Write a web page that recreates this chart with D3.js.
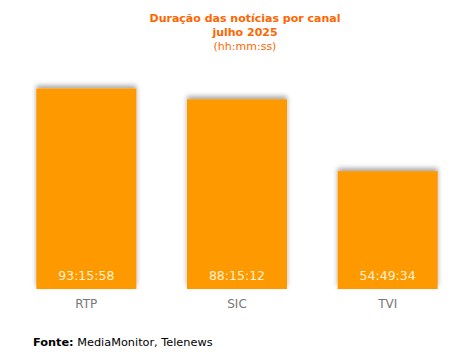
<!DOCTYPE html>
<html>
<head>
<meta charset="utf-8">
<script src="https://cdn.jsdelivr.net/npm/d3@7"></script>
<style>
  body { margin: 0; background: #fff; }
  svg { font-family: "DejaVu Sans", Verdana, sans-serif; }
</style>
</head>
<body>
<div id="chart"></div>
<script>
// channels and news duration (hh:mm:ss)
var channels = ["RTP", "SIC", "TVI"];
var durations = ["93:15:58", "88:15:12", "54:49:34"];

function toHours(s) {
    var p = s.split(":").map(Number);
    return p[0] + p[1] / 60 + p[2] / 3600;
}

var width = 471, height = 352;

var svg = d3.select("#chart").append("svg")
    .attr("width", width)
    .attr("height", height);

var defs = svg.append("defs");
var f = defs.append("filter")
    .attr("id", "shadow")
    .attr("x", "-20%").attr("y", "-20%")
    .attr("width", "140%").attr("height", "140%");
f.append("feDropShadow")
    .attr("dx", 0).attr("dy", -3)
    .attr("stdDeviation", 2.5)
    .attr("flood-color", "#000")
    .attr("flood-opacity", 0.35);

var x = d3.scaleBand()
    .domain(channels)
    .range([11, 463])
    .paddingInner(0.336)
    .paddingOuter(0.168);

var y = d3.scaleLinear()
    .domain([0, 93.5])
    .range([289, 88]);

var data = channels.map(function(c, i) {
    return { name: c, label: durations[i], value: toHours(durations[i]) };
});

svg.selectAll("rect.bar")
    .data(data)
    .enter()
    .append("rect")
    .attr("class", "bar")
    .attr("x", d => x(d.name))
    .attr("y", d => y(d.value))
    .attr("width", x.bandwidth())
    .attr("height", d => y(0) - y(d.value))
    .attr("fill", "#ff9900")
    .attr("filter", "url(#shadow)");

svg.selectAll("text.val")
    .data(data)
    .enter()
    .append("text")
    .attr("class", "val")
    .attr("x", d => x(d.name) + x.bandwidth() / 2)
    .attr("y", 280)
    .attr("text-anchor", "middle")
    .attr("font-size", "12.5px")
    .attr("fill", "#fff2d0")
    .text(d => d.label);

var xAxis = d3.axisBottom(x).tickSize(0).tickPadding(10);
var gx = svg.append("g")
    .attr("transform", "translate(0,289)")
    .call(xAxis);
gx.select(".domain").remove();
gx.selectAll("text")
    .attr("font-family", "DejaVu Sans, Verdana, sans-serif")
    .attr("font-size", "12px")
    .attr("fill", "#777");

// titles
svg.append("text")
    .attr("x", 245).attr("y", 22)
    .attr("text-anchor", "middle")
    .attr("font-size", "11px")
    .attr("font-weight", "bold")
    .attr("fill", "#ff6600")
    .text("Duração das notícias por canal");
svg.append("text")
    .attr("x", 245).attr("y", 36)
    .attr("text-anchor", "middle")
    .attr("font-size", "11px")
    .attr("font-weight", "bold")
    .attr("fill", "#ff6600")
    .text("julho 2025");
svg.append("text")
    .attr("x", 245).attr("y", 50)
    .attr("text-anchor", "middle")
    .attr("font-size", "11px")
    .attr("fill", "#ff6600")
    .text("(hh:mm:ss)");

var src = svg.append("text")
    .attr("x", 33).attr("y", 346)
    .attr("font-size", "11.3px")
    .attr("fill", "#000");
src.append("tspan").attr("font-weight", "bold").text("Fonte:");
src.append("tspan").text(" MediaMonitor, Telenews");
</script>
</body>
</html>
